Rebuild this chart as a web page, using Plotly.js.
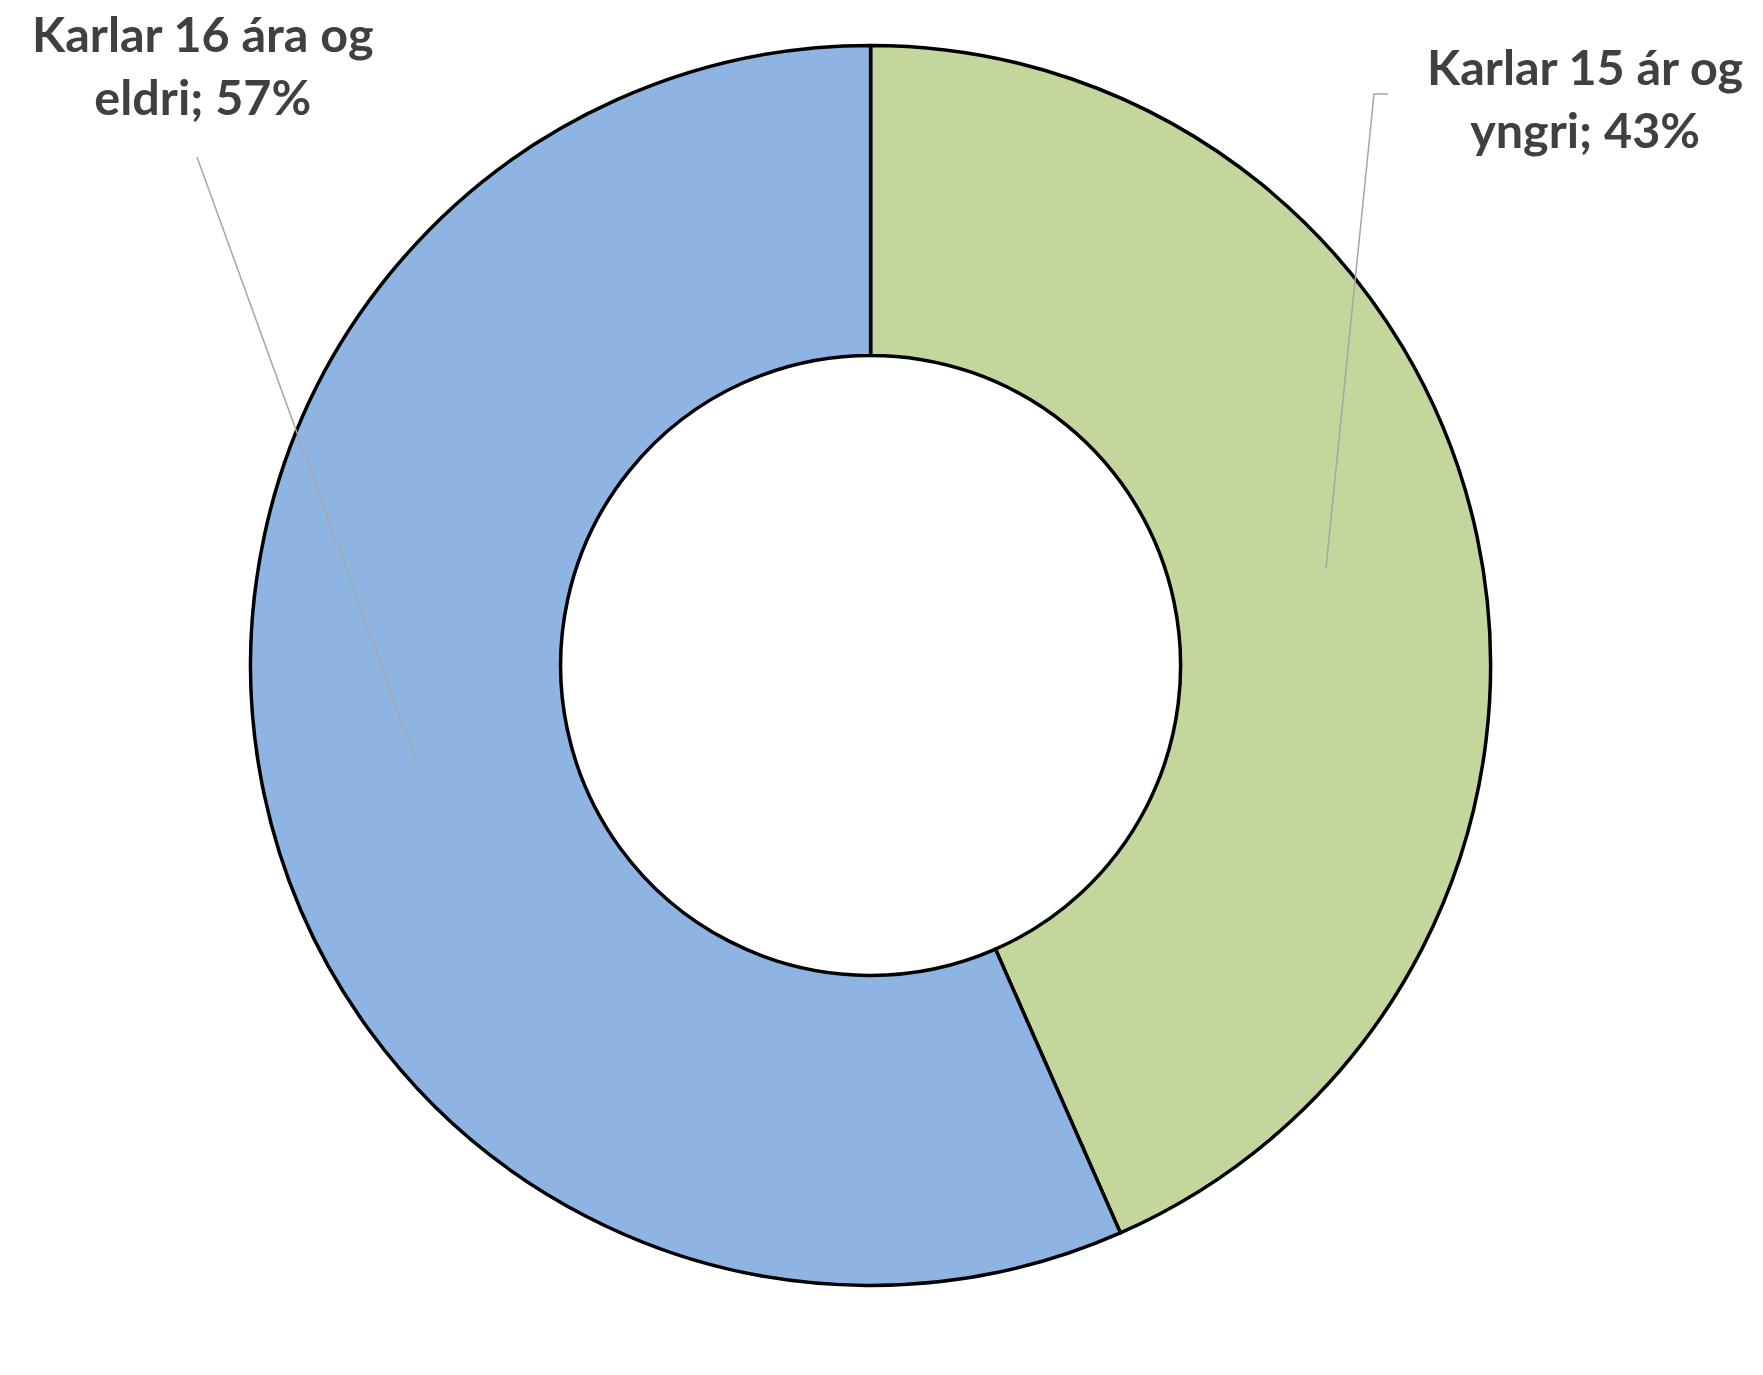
<!DOCTYPE html>
<html>
<head>
<meta charset="utf-8">
<script src="https://cdn.plot.ly/plotly-3.0.1.min.js"></script>
<style>html,body{margin:0;padding:0;background:#fff;}</style>
</head>
<body>
<div id="chart" style="width:1763px;height:1375px;"></div>
<script>
// Data
const labels = ["Karlar 15 ár og yngri", "Karlar 16 ára og eldri"];
const values = [43.4, 56.6];
const colors = ["#C3D69B", "#8EB4E3"];
// label line breaks (as in the original)
const labelLines = [["Karlar 15 ár og", "yngri"], ["Karlar 16 ára og", "eldri"]];

const W = 1763, H = 1375;
const px = x => x / W;
const py = y => 1 - y / H;

const total = values.reduce((a, b) => a + b, 0);
const pct = values.map(v => Math.round(v / total * 100) + "%");

const trace = {
  type: "pie",
  labels: labels,
  values: values,
  marker: { colors: colors, line: { color: "#000000", width: 3.5 } },
  hole: 0.5,
  sort: false,
  direction: "clockwise",
  rotation: 0,
  textinfo: "none",
  hoverinfo: "label+percent",
  showlegend: false,
  domain: { x: [px(870.6 - 620), px(870.6 + 620)], y: [py(665.4 + 620), py(665.4 - 620)] }
};

const labelFont = { family: "Lato, 'Open Sans', sans-serif", size: 48.5, color: "#404040" };

const annotations = [
  { x: px(1585), y: py(97), text: "<b>" + labelLines[0][0] + "<br>" + labelLines[0][1] + "; " + pct[0] + "</b>" },
  { x: px(203), y: py(64), text: "<b>" + labelLines[1][0] + "<br>" + labelLines[1][1] + "; " + pct[1] + "</b>" }
].map(a => Object.assign({
  xref: "paper", yref: "paper", showarrow: false, xanchor: "center", yanchor: "middle",
  align: "center", font: labelFont
}, a));

const leader = { color: "#A6A6A6", width: 1.5 };
const shapes = [
  { type: "path", xref: "paper", yref: "paper",
    path: `M ${px(1388)} ${py(94)} L ${px(1374)} ${py(94)} L ${px(1326)} ${py(568)}`, line: leader },
  { type: "line", xref: "paper", yref: "paper",
    x0: px(197), y0: py(157), x1: px(416), y1: py(761), line: leader }
];

const layout = {
  width: W, height: H,
  margin: { l: 0, r: 0, t: 0, b: 0 },
  paper_bgcolor: "#ffffff",
  plot_bgcolor: "#ffffff",
  annotations: annotations,
  shapes: shapes
};

Plotly.newPlot("chart", [trace], layout, { displayModeBar: false, staticPlot: true });
</script>
</body>
</html>
